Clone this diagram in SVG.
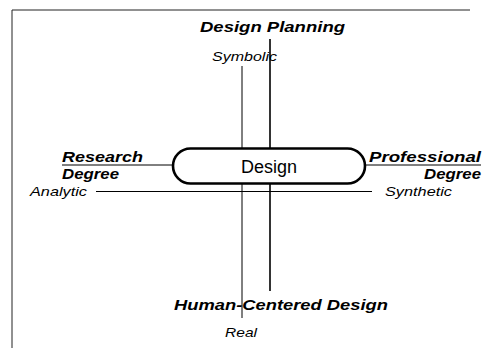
<svg xmlns="http://www.w3.org/2000/svg" width="494" height="348" viewBox="0 0 494 348">
<style>
.bi{font-family:"Liberation Sans",Arial,sans-serif;font-weight:bold;font-style:italic;font-size:15.5px;fill:#000}
.it{font-family:"Liberation Sans",Arial,sans-serif;font-style:italic;font-size:13.5px;fill:#000}
.rg{font-family:"Liberation Sans",Arial,sans-serif;font-size:18px;fill:#000}
.thin{stroke:#000;stroke-width:1;fill:none}
.thick{stroke:#000;stroke-width:1.6;fill:none}
.frame{stroke:#222;stroke-width:1;fill:none}
</style>
<rect width="494" height="348" fill="#fff"/>
<g id="frame">
<line class="frame" x1="12" y1="10" x2="470" y2="10"/>
<line class="frame" x1="12" y1="10" x2="12" y2="348"/>
</g>
<g id="connectors">
<line class="thin" x1="242" y1="66" x2="242" y2="318"/>
<line class="thick" x1="270" y1="39" x2="270" y2="291"/>
<line class="thin" x1="96" y1="191.5" x2="372" y2="191.5"/>
<line class="thin" x1="62" y1="165" x2="174" y2="165"/>
<line class="thin" x1="364" y1="165" x2="481" y2="165"/>
</g>
<g id="design">
<rect x="173" y="148.5" width="192" height="35" rx="17.5" fill="#fff" stroke="#000" stroke-width="2.6"/>
<text class="rg" x="269" y="173" text-anchor="middle">Design</text>
</g>
<g id="design-planning">
<text class="bi" x="200" y="32" textLength="145" lengthAdjust="spacingAndGlyphs">Design Planning</text>
</g>
<g id="symbolic">
<text class="it" x="212" y="61" textLength="65" lengthAdjust="spacingAndGlyphs">Symbolic</text>
</g>
<g id="research-degree">
<text class="bi" x="62" y="162" textLength="81" lengthAdjust="spacingAndGlyphs">Research</text>
<text class="bi" x="62" y="178.5" textLength="57" lengthAdjust="spacingAndGlyphs">Degree</text>
</g>
<g id="professional-degree">
<text class="bi" x="369" y="162" textLength="112" lengthAdjust="spacingAndGlyphs">Professional</text>
<text class="bi" x="424" y="178.5" textLength="57" lengthAdjust="spacingAndGlyphs">Degree</text>
</g>
<g id="analytic">
<text class="it" x="30" y="196" textLength="57" lengthAdjust="spacingAndGlyphs">Analytic</text>
</g>
<g id="synthetic">
<text class="it" x="385" y="196" textLength="67" lengthAdjust="spacingAndGlyphs">Synthetic</text>
</g>
<g id="human-centered-design">
<text class="bi" x="174" y="310" textLength="214" lengthAdjust="spacingAndGlyphs">Human-Centered Design</text>
</g>
<g id="real">
<text class="it" x="225" y="336.5" textLength="32" lengthAdjust="spacingAndGlyphs">Real</text>
</g>
</svg>
